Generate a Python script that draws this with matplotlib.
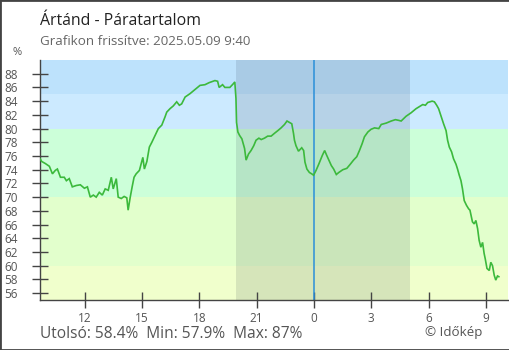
import matplotlib
matplotlib.use("Agg")
import matplotlib.pyplot as plt
from matplotlib.patches import Rectangle

plt.rcParams['font.family'] = ['Open Sans', 'DejaVu Sans']

# Humidity readings, time in hours relative to midnight (2025-05-08/09)
hours = [
    -14.33, -14.24, -14.05, -13.84, -13.68, -13.53, -13.42, -13.26, -13.06, -12.95,
    -12.80, -12.64, -12.43, -12.22, -12.01, -11.85, -11.70, -11.54, -11.39, -11.23,
    -11.07, -10.92, -10.76, -10.60, -10.50, -10.34, -10.24, -10.08, -9.93, -9.79,
    -9.72, -9.61, -9.51, -9.41, -9.30, -9.13, -8.95, -8.87, -8.74, -8.61,
    -8.48, -8.31, -8.14, -7.96, -7.79, -7.70, -7.53, -7.36, -7.18, -7.04,
    -6.92, -6.74, -6.48, -6.22, -5.96, -5.70, -5.48, -5.18, -5.04, -4.96,
    -4.78, -4.66, -4.40, -4.23, -4.14, -4.08, -4.05, -3.98, -3.89, -3.77,
    -3.72, -3.63, -3.55, -3.42, -3.29, -3.15, -3.03, -2.88, -2.76, -2.59,
    -2.42, -2.24, -2.07, -1.89, -1.72, -1.54, -1.41, -1.28, -1.16, -1.07,
    -1.02, -0.94, -0.81, -0.71, -0.64, -0.54, -0.47, -0.37, -0.24, -0.12,
    -0.02, 0.11, 0.25, 0.44, 0.56, 0.65, 0.78, 0.91, 1.03, 1.17,
    1.30, 1.51, 1.72, 1.90, 2.07, 2.24, 2.38, 2.52, 2.64, 2.82,
    2.99, 3.17, 3.39, 3.52, 3.78, 4.04, 4.26, 4.43, 4.56, 4.82,
    5.08, 5.34, 5.51, 5.69, 5.83, 5.95, 6.18, 6.30, 6.42, 6.52,
    6.59, 6.70, 6.78, 6.91, 6.99, 7.08, 7.20, 7.30, 7.43, 7.51,
    7.60, 7.69, 7.77, 7.86, 7.98, 8.09, 8.16, 8.29, 8.38, 8.47,
    8.56, 8.64, 8.73, 8.82, 8.90, 8.96, 9.05, 9.17, 9.25, 9.34,
    9.43, 9.51, 9.60, 9.67,
]
humidity = [
    75.6, 75.2, 74.9, 74.5, 73.4, 73.9, 74.1, 72.9, 72.9, 72.4,
    72.7, 71.5, 71.7, 71.8, 71.3, 71.5, 70.0, 70.3, 70.0, 70.7,
    70.3, 71.2, 71.0, 72.9, 71.2, 72.7, 70.0, 69.8, 70.1, 69.9,
    68.1, 70.0, 71.5, 72.9, 73.4, 73.9, 75.8, 74.1, 75.2, 77.3,
    78.0, 79.0, 80.0, 80.5, 81.7, 82.4, 82.9, 83.3, 83.9, 83.4,
    83.6, 84.6, 85.1, 85.7, 86.3, 86.4, 86.7, 87.0, 86.9, 86.0,
    86.4, 86.0, 86.0, 86.5, 86.8, 84.4, 80.9, 79.5, 79.0, 78.5,
    78.0, 77.1, 75.4, 76.3, 76.8, 77.5, 78.3, 78.6, 78.4, 78.6,
    78.9, 78.9, 79.3, 79.7, 80.1, 80.6, 81.1, 80.9, 80.7, 79.3,
    78.3, 77.5, 76.7, 77.0, 77.2, 76.8, 75.1, 74.1, 73.6, 73.4,
    73.2, 73.9, 74.8, 76.1, 76.8, 76.2, 75.4, 74.6, 74.1, 73.3,
    73.6, 74.0, 74.2, 74.8, 75.4, 75.9, 76.8, 77.8, 78.8, 79.5,
    79.9, 80.1, 80.0, 80.6, 80.8, 81.1, 81.3, 81.2, 81.1, 81.8,
    82.3, 82.9, 83.2, 83.5, 83.4, 83.8, 84.0, 83.9, 83.4, 82.9,
    82.3, 81.4, 80.7, 79.7, 78.3, 77.3, 76.6, 75.6, 74.8, 74.1,
    73.2, 72.4, 71.2, 69.5, 68.8, 68.3, 68.1, 66.4, 66.1, 66.6,
    65.4, 63.7, 62.7, 63.4, 61.8, 61.0, 59.6, 59.3, 60.5, 60.0,
    58.6, 57.9, 58.5, 58.4,
]

# Background humidity bands (lower, upper, colour)
band_edges = [55, 60, 70, 80, 85, 90]
band_colors = ['#f0ffcc', '#e2ffcc', '#ccffd9', '#cceaff', '#bde2fc']

# Night period (sunset -> sunrise), hours relative to midnight
sunset = -4.1
sunrise = 5.02

tick_pos = [-12, -9, -6, -3, 0, 3, 6, 9]
tick_labels = ['12', '15', '18', '21', '0', '3', '6', '9']
y_ticks = list(range(56, 90, 2))

fig = plt.figure(figsize=(5.1, 3.5), dpi=100)
fig.patch.set_facecolor('white')
ax = fig.add_axes([40 / 510, 50 / 350, 468 / 510, 240 / 350])

x_min, x_max = -14.33, 10.15
ax.set_xlim(x_min, x_max)
ax.set_ylim(55, 90)

for lo, hi, c in zip(band_edges[:-1], band_edges[1:], band_colors):
    ax.axhspan(lo, hi, color=c, lw=0, zorder=0)

ax.axvspan(sunset, sunrise, color='#1e2a40', alpha=0.12, lw=0, zorder=1)
ax.axvline(0, color='#2b8fd9', lw=1.1, zorder=2)

ax.plot(hours, humidity, color='#3cb93c', lw=1.2, zorder=3,
        solid_joinstyle='miter')

for side in ('top', 'right'):
    ax.spines[side].set_visible(False)
for side in ('left', 'bottom'):
    ax.spines[side].set_color('#444444')
    ax.spines[side].set_linewidth(1.0)

ax.set_yticks(y_ticks)
ax.set_xticks(tick_pos)
ax.set_xticklabels(tick_labels)
ax.tick_params(axis='both', direction='inout', length=12, width=1.0,
               color='#444444', labelcolor='#555555', labelsize=8.5)
ax.tick_params(axis='y', pad=10)
ax.tick_params(axis='x', pad=3)

# Header texts
fig.text(40 / 510, 1 - 25 / 350, 'Ártánd - Páratartalom', fontsize=11.4,
         color='#222222', ha='left', va='baseline')
fig.text(40 / 510, 1 - 45 / 350, 'Grafikon frissítve: 2025.05.09 9:40',
         fontsize=9.6, color='#666666', ha='left', va='baseline')
fig.text(17 / 510, 1 - 55 / 350, '%', fontsize=8, color='#555555',
         ha='center', va='baseline')

# Footer with summary statistics
last_v = humidity[-1]
min_v = min(humidity)
max_v = max(humidity)
summary = f'Utolsó: {last_v:g}%  Min: {min_v:g}%  Max: {max_v:g}%'
fig.text(40 / 510, 1 - 338 / 350, summary, fontsize=11.2, color='#555555',
         ha='left', va='baseline')
fig.text(482 / 510, 1 - 336 / 350, '© Időkép', fontsize=9.6, color='#555555',
         ha='right', va='baseline')

# Frame round the whole figure
fig.patches.append(Rectangle((0, 0), 1, 1, transform=fig.transFigure,
                             fill=False, edgecolor='#444444', lw=2))

fig.savefig('out.png', dpi=100)
